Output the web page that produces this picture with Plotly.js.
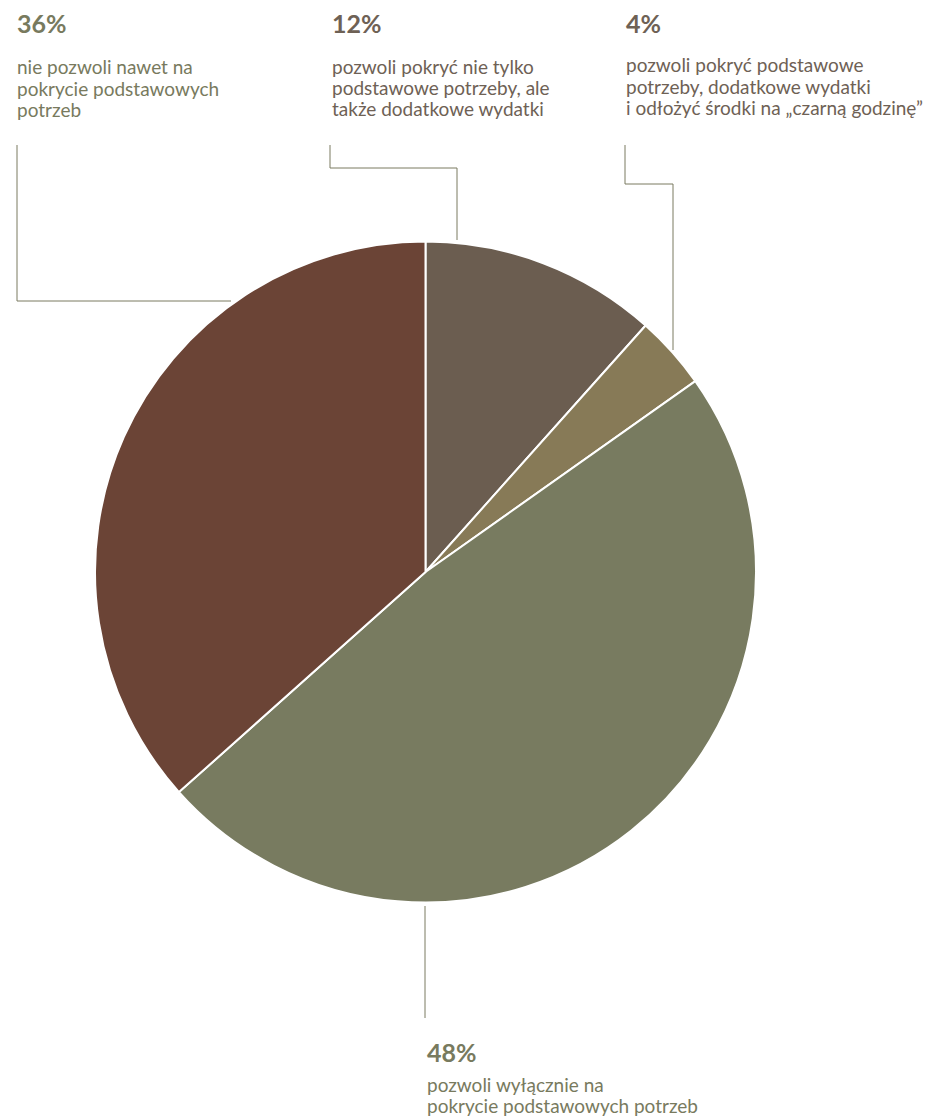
<!DOCTYPE html>
<html>
<head>
<meta charset="utf-8">
<script src="https://cdn.plot.ly/plotly-3.0.1.min.js"></script>
<style>
  html, body { margin: 0; padding: 0; background: #ffffff; }
  #chart { width: 935px; height: 1117px; }
</style>
</head>
<body>
<div id="chart"></div>
<script>
// Slices in clockwise order starting at 12 o'clock
const categories = [
  "pozwoli pokryć nie tylko podstawowe potrzeby, ale także dodatkowe wydatki",
  "pozwoli pokryć podstawowe potrzeby, dodatkowe wydatki i odłożyć środki na „czarną godzinę”",
  "pozwoli wyłącznie na pokrycie podstawowych potrzeb",
  "nie pozwoli nawet na pokrycie podstawowych potrzeb"
];
const values = [11.6, 3.6, 48.2, 36.6];
const valueLabels = ["12%", "4%", "48%", "36%"];
const bodyLines = [
  ["pozwoli pokryć nie tylko", "podstawowe potrzeby, ale", "także dodatkowe wydatki"],
  ["pozwoli pokryć podstawowe", "potrzeby, dodatkowe wydatki", "i odłożyć środki na „czarną godzinę”"],
  ["pozwoli wyłącznie na", "pokrycie podstawowych potrzeb"],
  ["nie pozwoli nawet na", "pokrycie podstawowych", "potrzeb"]
];
const sliceColors = ["#6b5d50", "#877a57", "#787b60", "#6b4436"];
const labelColors = ["#6e6155", "#6e6155", "#787a5e", "#787a5e"];

const W = 935, H = 1117;
const px = x => x / W;
const py = y => 1 - y / H;

// label placement (pixels): heading centre, first body line centre
const labelPos = [
  { x: 331, hy: 23, by: 68 },
  { x: 625, hy: 23, by: 67 },
  { x: 426, hy: 1052, by: 1086 },
  { x: 16,  hy: 23, by: 69 }
];
const lineStep = 21.4;
// leader line paths (pixels)
const leaders = [
  [[330, 145], [330, 168], [457, 168], [457, 240]],
  [[625, 145], [625, 184], [673, 184], [673, 350]],
  [[425, 906], [425, 1018]],
  [[17, 145], [17, 301], [231, 301]]
];

const FONT = "Lato, 'Open Sans', sans-serif";
const annotations = [];
const shapes = [];
for (let i = 0; i < values.length; i++) {
  const p = labelPos[i];
  annotations.push({
    xref: "paper", yref: "paper", x: px(p.x - 1), y: py(p.hy),
    xanchor: "left", yanchor: "middle", showarrow: false,
    text: "<b>" + valueLabels[i] + "</b>",
    font: { family: FONT, size: 25, color: labelColors[i] }
  });
  bodyLines[i].forEach((t, k) => {
    annotations.push({
      xref: "paper", yref: "paper", x: px(p.x - 1), y: py(p.by + k * lineStep - 2),
      xanchor: "left", yanchor: "middle", align: "left", showarrow: false,
      text: t,
      font: { family: FONT, size: 19, color: labelColors[i] }
    });
  });
  const pts = leaders[i];
  for (let k = 0; k < pts.length - 1; k++) {
    shapes.push({
      type: "line", xref: "paper", yref: "paper",
      x0: px(pts[k][0]), y0: py(pts[k][1]), x1: px(pts[k + 1][0]), y1: py(pts[k + 1][1]),
      line: { color: "#7a7a60", width: 1 }
    });
  }
}

const data = [{
  type: "pie",
  labels: categories,
  values: values,
  sort: false,
  direction: "clockwise",
  rotation: 0,
  textinfo: "none",
  hoverinfo: "label+percent",
  marker: { colors: sliceColors, line: { color: "#ffffff", width: 2 } },
  domain: { x: [px(95), px(756)], y: [py(903), py(241)] },
  showlegend: false
}];

const layout = {
  width: W, height: H,
  margin: { l: 0, r: 0, t: 0, b: 0 },
  paper_bgcolor: "#ffffff",
  plot_bgcolor: "#ffffff",
  showlegend: false,
  annotations: annotations,
  shapes: shapes
};

Plotly.newPlot("chart", data, layout, { displayModeBar: false, staticPlot: true });
</script>
</body>
</html>
